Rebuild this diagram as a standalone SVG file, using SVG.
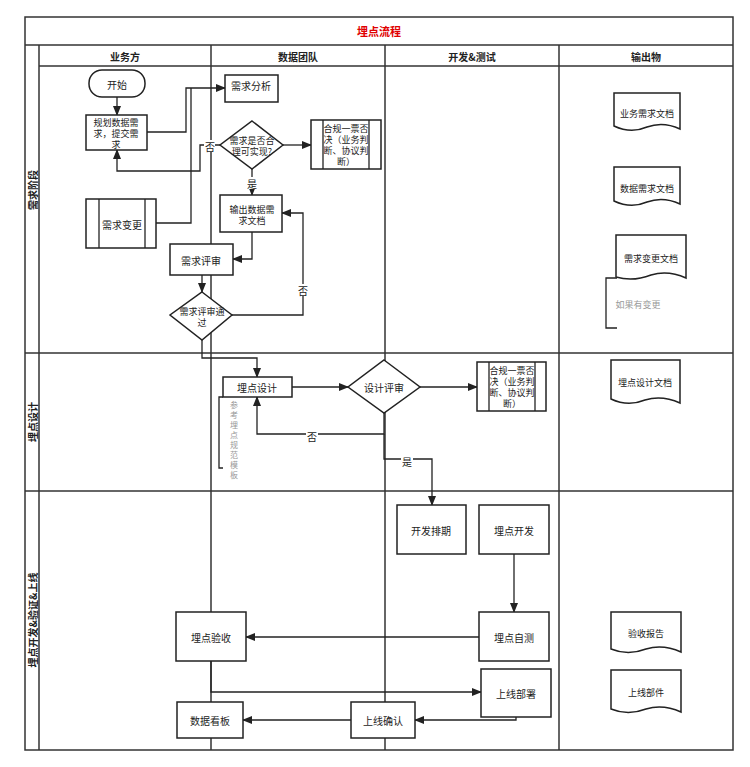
<svg xmlns="http://www.w3.org/2000/svg" width="750" height="767" viewBox="0 0 750 767">
<defs>
<marker id="ar" markerWidth="10" markerHeight="8" refX="9" refY="4" orient="auto" markerUnits="userSpaceOnUse"><path d="M0,0 L10,4 L0,8 Z" fill="#222"/></marker>
<style>
text{font-family:"Noto Sans CJK SC","Liberation Sans",sans-serif;font-size:10px;fill:#222;text-anchor:middle;dominant-baseline:central}
.b{fill:#fff;stroke:#222;stroke-width:1.5}
.l{fill:none;stroke:#333;stroke-width:1.5}
.c{fill:none;stroke:#222;stroke-width:1.3}
.a{marker-end:url(#ar)}
.h{font-size:10px;font-weight:bold}
.s{font-size:9px}
.g{fill:#999}
.v{font-size:8px;fill:#999}
.w{fill:#fff}
</style>
</defs>
<rect width="750" height="767" fill="#fff"/>
<g id="frame">
<rect x="25" y="17" width="708" height="733" class="l"/>
<line x1="25" y1="45" x2="733" y2="45" class="l"/>
<line x1="39" y1="66" x2="733" y2="66" class="l"/>
<line x1="39" y1="45" x2="39" y2="750" class="l"/>
<line x1="211" y1="45" x2="211" y2="750" class="l"/>
<line x1="385" y1="45" x2="385" y2="750" class="l"/>
<line x1="559" y1="45" x2="559" y2="750" class="l"/>
<line x1="25" y1="353" x2="733" y2="353" class="l"/>
<line x1="25" y1="491" x2="733" y2="491" class="l"/>
<text x="379" y="31" style="fill:#e00000;font-weight:bold;font-size:11px">埋点流程</text>
<text x="125" y="56" class="h">业务方</text>
<text x="298" y="56" class="h">数据团队</text>
<text x="472" y="56" class="h">开发&amp;测试</text>
<text x="646" y="56" class="h">输出物</text>
<text transform="translate(32,190) rotate(-90)" class="h">需求阶段</text>
<text transform="translate(32,422) rotate(-90)" class="h">埋点设计</text>
<text transform="translate(32,620) rotate(-90)" class="h">埋点开发&amp;验证&amp;上线</text>
</g>
<g id="connectors">
<path d="M117,97 V115" class="c a"/>
<path d="M147,132 H186 V88 H225" class="c a"/>
<path d="M156,223 H191 V88" class="c"/>
<path d="M283,145 H311" class="c a"/>
<path d="M220,145 H200 V171 H117 V150" class="c a"/>
<rect x="204" y="140" width="11" height="12" class="w"/><text x="210" y="146">否</text>
<path d="M252,169 V195" class="c a"/>
<rect x="246" y="177" width="12" height="12" class="w"/><text x="252" y="183">是</text>
<path d="M252,232 V259 H233" class="c a"/>
<path d="M202,275 V292" class="c a"/>
<path d="M232,315 H303 V213 H282" class="c a"/>
<rect x="297" y="284" width="12" height="12" class="w"/><text x="303" y="290">否</text>
<path d="M202,340 V358 H257 V377" class="c a"/>
<path d="M292,387 H348" class="c a"/>
<path d="M420,387 H477" class="c a"/>
<path d="M384,413 V434 H257 V397" class="c a"/>
<rect x="306" y="430" width="12" height="12" class="w"/><text x="312" y="436">否</text>
<path d="M384,434 V459 H432 V505" class="c a"/>
<rect x="401" y="455" width="12" height="12" class="w"/><text x="407" y="461">是</text>
<path d="M514,554 V612" class="c a"/>
<path d="M479,637 H246" class="c a"/>
<path d="M211,661 V692 H481" class="c a"/>
<path d="M516,717 V720 H415" class="c a"/>
<path d="M351,720 H243" class="c a"/>
<path d="M223,397 H219 V468 H223" class="c"/>
<path d="M617,278 H606 V328 H617" class="c"/>
</g>
<g id="start"><rect x="89" y="70" width="56" height="27" rx="13" class="b"/><text x="117" y="84">开始</text></g>
<g id="plan"><rect x="86" y="115" width="61" height="35" class="b"/><text x="116" y="122" class="s">规划数据需</text><text x="116" y="133" class="s">求，提交需</text><text x="116" y="144" class="s">求</text></g>
<g id="change"><rect x="86" y="199" width="70" height="49" class="b"/><line x1="99" y1="199" x2="99" y2="248" class="c"/><line x1="145" y1="199" x2="145" y2="248" class="c"/><text x="122" y="224">需求变更</text></g>
<g id="analysis"><rect x="225" y="75" width="53" height="27" class="b"/><text x="251" y="85">需求分析</text></g>
<g id="feasible"><polygon points="252,121 283,145 252,169 220,145" class="b"/><text x="252" y="140" class="s">需求是否合</text><text x="252" y="151" class="s">理可实现?</text></g>
<g id="veto1"><rect x="311" y="120" width="70" height="49" class="b"/><line x1="323" y1="120" x2="323" y2="169" class="c"/><line x1="369" y1="120" x2="369" y2="169" class="c"/><text x="346" y="128" class="s">合规一票否</text><text x="346" y="139" class="s">决（业务判</text><text x="346" y="150" class="s">断、协议判</text><text x="346" y="161" class="s">断）</text></g>
<g id="outdoc"><rect x="220" y="195" width="62" height="37" class="b"/><text x="252" y="209" class="s">输出数据需</text><text x="252" y="220" class="s">求文档</text></g>
<g id="review"><rect x="170" y="244" width="63" height="31" class="b"/><text x="201" y="260">需求评审</text></g>
<g id="reviewpass"><polygon points="202,292 232,315 202,340 170,315" class="b"/><text x="202" y="311" class="s">需求评审通</text><text x="202" y="322" class="s">过</text></g>
<g id="design"><rect x="223" y="377" width="69" height="20" class="b"/><text x="257" y="387">埋点设计</text></g>
<g id="tpl">
<text x="234" y="404" class="v">参</text><text x="234" y="414" class="v">考</text><text x="234" y="424" class="v">埋</text><text x="234" y="434" class="v">点</text><text x="234" y="444" class="v">规</text><text x="234" y="454" class="v">范</text><text x="234" y="464" class="v">模</text><text x="234" y="474" class="v">板</text>
</g>
<g id="designreview"><polygon points="384,360 420,387 384,413 348,387" class="b"/><text x="384" y="387">设计评审</text></g>
<g id="veto2"><rect x="477" y="362" width="69" height="49" class="b"/><line x1="489" y1="362" x2="489" y2="411" class="c"/><line x1="535" y1="362" x2="535" y2="411" class="c"/><text x="512" y="370" class="s">合规一票否</text><text x="512" y="381" class="s">决（业务判</text><text x="512" y="392" class="s">断、协议判</text><text x="512" y="403" class="s">断）</text></g>
<g id="schedule"><rect x="397" y="505" width="69" height="49" class="b"/><text x="431" y="530">开发排期</text></g>
<g id="dev"><rect x="479" y="505" width="70" height="49" class="b"/><text x="514" y="530">埋点开发</text></g>
<g id="selftest"><rect x="479" y="612" width="70" height="49" class="b"/><text x="514" y="637">埋点自测</text></g>
<g id="accept"><rect x="176" y="612" width="70" height="49" class="b"/><text x="211" y="637">埋点验收</text></g>
<g id="deploy"><rect x="481" y="669" width="70" height="48" class="b"/><text x="516" y="693">上线部署</text></g>
<g id="dashboard"><rect x="177" y="702" width="66" height="36" class="b"/><text x="210" y="720">数据看板</text></g>
<g id="confirm"><rect x="351" y="702" width="64" height="36" class="b"/><text x="383" y="720">上线确认</text></g>
<g id="doc1"><path d="M614,93 H680 V129 Q663,121 647,127 Q631,134 614,126 Z" class="b"/><text x="647" y="113" class="s">业务需求文档</text></g>
<g id="doc2"><path d="M614,167 H680 V204 Q663,196 647,202 Q631,209 614,201 Z" class="b"/><text x="647" y="188" class="s">数据需求文档</text></g>
<g id="doc3"><path d="M616,235 H686 V278 Q668,270 651,275 Q633,282 616,277 Z" class="b"/><text x="651" y="258" class="s">需求变更文档</text><text x="638" y="304" class="s g">如果有变更</text></g>
<g id="doc4"><path d="M611,360 H680 V403 Q662,395 645,400 Q628,407 611,399 Z" class="b"/><text x="645" y="382" class="s">埋点设计文档</text></g>
<g id="doc5"><path d="M611,612 H681 V652 Q663,644 646,649 Q628,656 611,649 Z" class="b"/><text x="646" y="633" class="s">验收报告</text></g>
<g id="doc6"><path d="M611,670 H681 V712 Q663,704 646,709 Q628,716 611,709 Z" class="b"/><text x="646" y="692" class="s">上线部件</text></g>
</svg>
